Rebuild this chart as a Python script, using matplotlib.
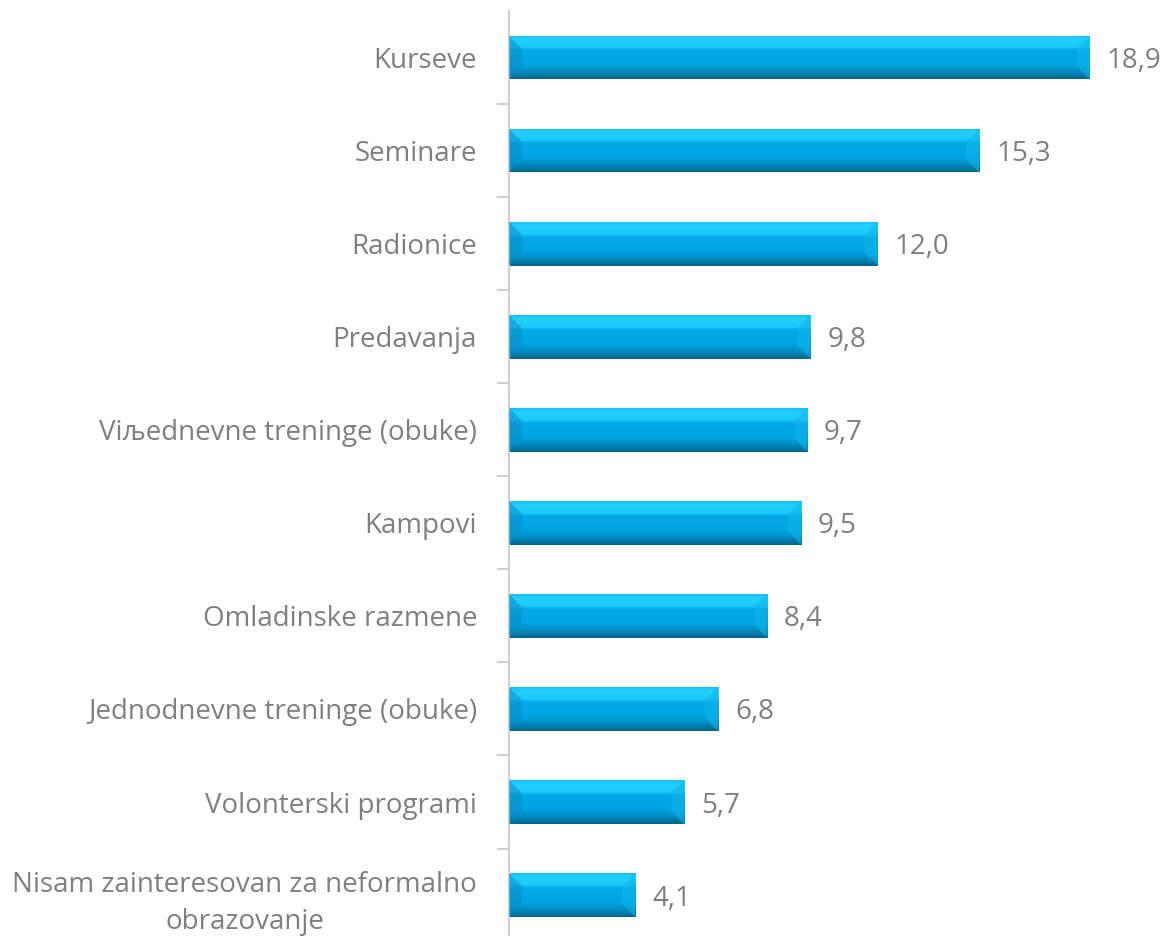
import matplotlib

matplotlib.use("Agg")
import matplotlib.pyplot as plt
import numpy as np
from matplotlib.colors import LinearSegmentedColormap
from matplotlib.patches import Polygon

categories = [
    "Kurseve",
    "Seminare",
    "Radionice",
    "Predavanja",
    "Viљednevne treninge (obuke)",
    "Kampovi",
    "Omladinske razmene",
    "Jednodnevne treninge (obuke)",
    "Volonterski programi",
    "Nisam zainteresovan za neformalno\nobrazovanje",
]
values = [18.9, 15.3, 12.0, 9.8, 9.7, 9.5, 8.4, 6.8, 5.7, 4.1]

plt.rcParams["font.family"] = ["Open Sans", "DejaVu Sans"]
TEXT = "#7f7f7f"

# vertical shading of the bevelled bars, top -> bottom
bevel = LinearSegmentedColormap.from_list("bevel", [
    (0.00, "#12c0f2"),
    (0.07, "#22cffe"),
    (0.27, "#1ccafa"),
    (0.34, "#03a9e7"),
    (0.66, "#00a4e2"),
    (0.80, "#0092c9"),
    (1.00, "#00678f"),
])
grad = np.linspace(0, 1, 64).reshape(-1, 1)

fig = plt.figure(figsize=(11.67, 9.36), dpi=100)
ax = fig.add_axes([509 / 1167, -0.006, 1 - 509 / 1167, 1 - 11 / 936 + 0.006])

n = len(categories)
pos = list(range(n))
bar_h = 0.47
bars = ax.barh(pos, values, height=bar_h, color="#00a6e3", edgecolor="none", zorder=2)

bx = 13 / 30.74
by = 0.14
for patch, y, v in zip(bars.patches, pos, values):
    t, b = y - bar_h / 2, y + bar_h / 2  # inverted y axis: t is the visual top
    im = ax.imshow(grad, extent=(0, v, b, t), origin="upper", aspect="auto",
                   cmap=bevel, interpolation="bilinear", zorder=2.5)
    im.set_clip_path(patch)
    ax.add_patch(Polygon([(0, t), (bx, t + by), (bx, b - by), (0, b)],
                         closed=True, facecolor="#0a8fc8", alpha=0.55, lw=0, zorder=3))
    ax.add_patch(Polygon([(v, t), (v - bx, t + by), (v - bx, b - by), (v, b)],
                         closed=True, facecolor="#10b4ec", alpha=0.6, lw=0, zorder=3))
    ax.text(v + 0.55, y, f"{v:.1f}".replace(".", ","), va="center_baseline", ha="left",
            fontsize=20, color=TEXT)

ax.set_ylim(n - 0.5, -0.5)
ax.set_xlim(0, 658 / 30.74)
ax.set_yticks(pos)
ax.set_yticklabels(categories, fontsize=20, color=TEXT, linespacing=1.45)
ax.set_yticks([p + 0.5 for p in pos[:-1]], minor=True)
ax.tick_params(axis="y", which="major", length=0, pad=23)
ax.tick_params(axis="y", which="minor", length=9, width=1.5, color="#d0d0d0", direction="out")
for lab in ax.get_yticklabels():
    lab.set_horizontalalignment("right")
    lab.set_multialignment("center")
ax.set_xticks([])
for s in ["top", "right", "bottom"]:
    ax.spines[s].set_visible(False)
ax.spines["left"].set_color("#d0d0d0")
ax.spines["left"].set_linewidth(1.5)

fig.savefig("out.png", dpi=100, facecolor="white")
